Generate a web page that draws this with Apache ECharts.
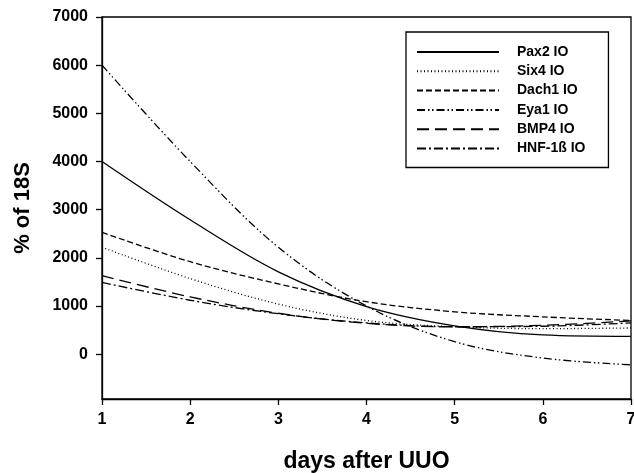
<!DOCTYPE html>
<html>
<head>
<meta charset="utf-8">
<script src="https://cdn.jsdelivr.net/npm/echarts@6/dist/echarts.min.js"></script>
<style>
html, body { margin: 0; padding: 0; background: #fff; }
#chart { width: 634px; height: 473px; }
</style>
</head>
<body>
<div id="chart"></div>
<script>
// days after UUO
var days = [1, 2, 3, 4, 5, 6, 7];
var yTicks = [0, 1000, 2000, 3000, 4000, 5000, 6000, 7000];

// fitted curves, % of 18S
var pax2 = [4000, 2790, 1710, 990, 590, 400, 370];
var six4 = [2220, 1570, 1040, 700, 570, 530, 545];
var dach1 = [2530, 1920, 1460, 1090, 880, 775, 700];
var eya1 = [6000, 4000, 2220, 1000, 260, -80, -220];
var bmp4 = [1630, 1190, 850, 640, 570, 600, 690];
var hnf1b = [1490, 1120, 840, 650, 570, 580, 650];

var names = ['Pax2 IO', 'Six4 IO', 'Dach1 IO', 'Eya1 IO', 'BMP4 IO', 'HNF-1ß IO'];
var values = [pax2, six4, dach1, eya1, bmp4, hnf1b];
var dashes = ['solid', [1, 2.5], [6, 3], [8, 3, 1.5, 2.5, 1.5, 3], [12, 6], [9, 3, 2, 3]];

function pairs(ys){
	var out = [];
	for(var i = 0; i < days.length; ++i){
		out.push([days[i], ys[i]]);
	}
	return out;
}

var series = [];
for(var i = 0; i < names.length; ++i){
	series.push({
		name: names[i],
		type: 'line',
		data: pairs(values[i]),
		smooth: 0.35,
		symbol: 'none',
		lineStyle: { color: '#000', width: 1.3, type: dashes[i] },
		itemStyle: { color: '#000' }
	});
}

var font = 'Liberation Sans, Arial, sans-serif';

var option = {
	animation: false,
	backgroundColor: '#fff',
	grid: {
		left: 102, right: 3, top: 17, bottom: 74,
		outerBoundsMode: 'none',
		show: true, borderColor: '#000', borderWidth: 1.3
	},
	legend: {
		orient: 'vertical',
		left: 406, top: 32,
		padding: [13, 23, 12, 10],
		itemWidth: 82, itemHeight: 14, itemGap: 5.3,
		borderColor: '#000', borderWidth: 1.3,
		itemStyle: { color: 'rgba(0,0,0,0)', borderWidth: 0, opacity: 0 },
		data: names,
		textStyle: { fontFamily: font, fontWeight: 'bold', fontSize: 14, color: '#000', padding: [0, 0, 0, 13] }
	},
	xAxis: {
		type: 'value', min: 1, max: 7, interval: 1,
		name: 'days after UUO', nameLocation: 'middle', nameGap: 51,
		nameTextStyle: { fontFamily: font, fontWeight: 'bold', fontSize: 23, color: '#000' },
		axisLine: { onZero: false, lineStyle: { color: '#000', width: 1.3 } },
		axisTick: { show: true, length: 6, lineStyle: { color: '#000', width: 1.3 } },
		axisLabel: { margin: 13, fontFamily: font, fontWeight: 'bold', fontSize: 16, color: '#000' },
		splitLine: { show: false }
	},
	yAxis: {
		type: 'value', min: -930, max: 7000,
		name: '% of 18S', nameLocation: 'middle', nameGap: 68, nameRotate: 90,
		nameTextStyle: { fontFamily: font, fontWeight: 'bold', fontSize: 22, color: '#000' },
		axisLine: { show: true, onZero: false, lineStyle: { color: '#000', width: 1.3 } },
		axisTick: { show: true, length: 6, customValues: yTicks, lineStyle: { color: '#000', width: 1.3 } },
		axisLabel: {
			margin: 14, customValues: yTicks,
			formatter: function(v){ return String(v); },
			fontFamily: font, fontWeight: 'bold', fontSize: 16, color: '#000'
		},
		splitLine: { show: false }
	},
	series: series
};

var myChart = echarts.init(document.getElementById('chart'));
myChart.setOption(option);
</script>
</body>
</html>
